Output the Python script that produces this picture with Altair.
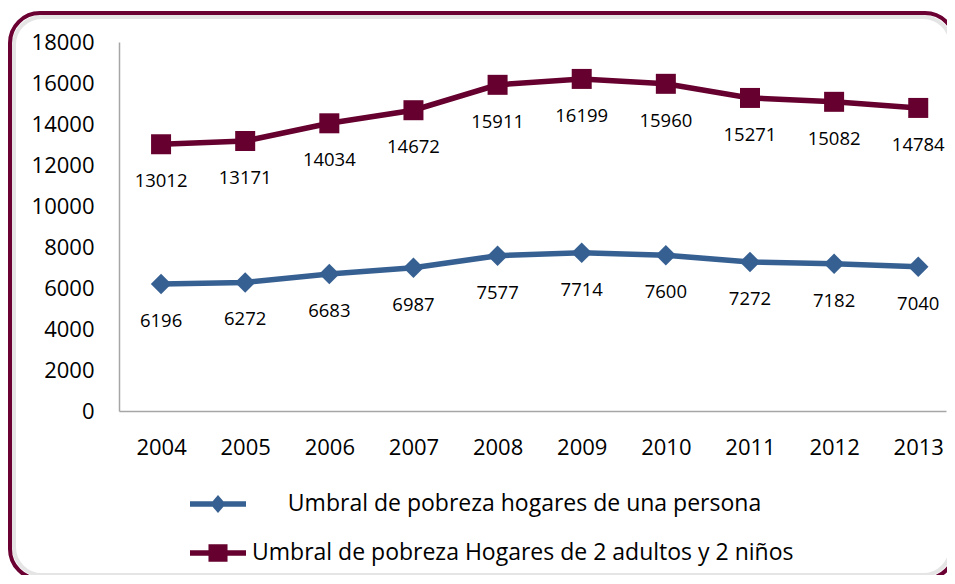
import altair as alt
import pandas as pd

years = [2004, 2005, 2006, 2007, 2008, 2009, 2010, 2011, 2012, 2013]
one_person = [6196, 6272, 6683, 6987, 7577, 7714, 7600, 7272, 7182, 7040]
two_adults = [13012, 13171, 14034, 14672, 15911, 16199, 15960, 15271, 15082, 14784]
series_names = [
    "Umbral de pobreza hogares de una persona",
    "Umbral de pobreza Hogares de 2 adultos y 2 niños",
]
# leading zero-width char keeps the non-breaking spaces from being trimmed
legend_names = ["\u200b" + "\u00a0" * 6 + series_names[0], series_names[1]]
colors = ["#376092", "#66002e"]
point_shapes = ["diamond", "square"]
y_ticks = list(range(0, 18001, 2000))

FONT = "Open Sans"

rows = []
for name, vals in zip(series_names, [one_person, two_adults]):
    for yr, v in zip(years, vals):
        rows.append({"year": yr, "value": v, "series": name})
df = pd.DataFrame(rows)

x_enc = alt.X(
    "year:Q",
    scale=alt.Scale(domain=[2003.5, 2013.33], nice=False, zero=False),
    axis=alt.Axis(values=years, format="d", title=None, labelPadding=26, labelFlush=False),
)
y_enc = alt.Y(
    "value:Q",
    scale=alt.Scale(domain=[0, 18000], nice=False),
    axis=alt.Axis(values=y_ticks, format="d", title=None, labelPadding=25),
)

# frame around the chart
frame_df = pd.DataFrame({"k": [0]})
frame = alt.Chart(frame_df).mark_rect(
    fill=None, stroke="#6b0033", strokeWidth=4, cornerRadius=30
).encode(x=alt.value(-109), x2=alt.value(836), y=alt.value(-29), y2=alt.value(537))
shadow = alt.Chart(frame_df).mark_rect(
    fill=None, stroke="#000000", strokeOpacity=0.10, strokeWidth=4, cornerRadius=28
).encode(x=alt.value(-105), x2=alt.value(832), y=alt.value(-25), y2=alt.value(533))

layers = [frame, shadow]
for name, col, shp in zip(series_names, colors, point_shapes):
    sub = alt.Chart(df).transform_filter(alt.datum.series == name)
    layers.append(sub.mark_line(color=col, strokeWidth=5.5).encode(x=x_enc, y=y_enc))
    layers.append(
        sub.mark_point(filled=True, opacity=1, color=col, shape=shp, size=420 if shp == "diamond" else 400).encode(
            x=x_enc, y=y_enc
        )
    )
    layers.append(
        sub.mark_text(font=FONT, fontSize=18.5, color="black", dy=37, baseline="middle").encode(
            x=x_enc, y=y_enc, text=alt.Text("value:Q", format="d")
        )
    )

legend_paths = [
    "M-2,-0.2L2,-0.2L2,0.2L-2,0.2Z M0,-0.65L0.55,0L0,0.65L-0.55,0Z",
    "M-2,-0.2L2,-0.2L2,0.2L-2,0.2Z M-0.68,-0.62L0.68,-0.62L0.68,0.62L-0.68,0.62Z",
]


def make_legend():
    return alt.Legend(
        orient="none",
        legendX=85,
        legendY=448,
        title=None,
        labelFont=FONT,
        labelFontSize=23,
        labelColor="black",
        symbolSize=784,
        symbolStrokeWidth=0,
        labelOffset=20,
        rowPadding=23,
        padding=0,
        labelLimit=0,
    )


legend_layer = (
    alt.Chart(df)
    .transform_filter("false")
    .mark_point(filled=True, opacity=1)
    .encode(
        x=x_enc,
        y=y_enc,
        color=alt.Color("series:N", scale=alt.Scale(domain=legend_names, range=colors), legend=make_legend()),
        shape=alt.Shape("series:N", scale=alt.Scale(domain=legend_names, range=legend_paths), legend=make_legend()),
    )
)
layers.append(legend_layer)

chart = (
    alt.layer(*layers)
    .properties(
        width=827,
        height=369,
        padding={"left": 111, "top": 34, "right": 1, "bottom": 164},
        autosize=alt.AutoSizeParams(type="none"),
        background="white",
    )
    .configure_view(stroke=None)
    .configure_axis(
        grid=False,
        ticks=False,
        domainColor="#a6a6a6",
        domainWidth=1.5,
        labelFont=FONT,
        labelFontSize=22,
        labelColor="black",
    )
)

chart.save("out.html", embed_options={"renderer": "svg", "actions": False})
